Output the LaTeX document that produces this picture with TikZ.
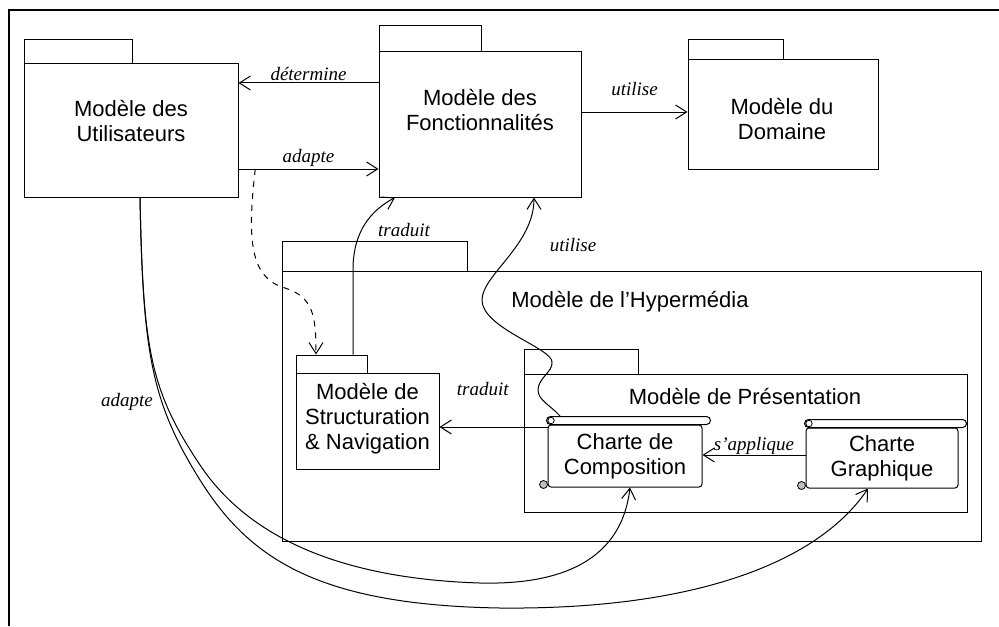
\documentclass[tikz,border=0pt]{standalone}
\usepackage{fontspec}
\setmainfont{Liberation Serif}
\newfontfamily\arial{Liberation Sans}
\usetikzlibrary{arrows.meta, positioning, fit, calc}

% barre roulee d'une charte
\newcommand{\rouleau}[1]{%
  \node[draw, rounded corners=2pt, inner sep=0pt, line width=0.5pt, fill=white,
        fit={($(#1.north west)+(-1,0)$) ($(#1.north east)+(8,-8)$)}] (#1-rouleau) {};
  \draw[line width=0.4pt] ($(#1-rouleau.west)+(5,0)$) circle[radius=1.6pt];
  \draw[line width=0.4pt, fill=black!25] ($(#1.south west)+(-4,-3)$) circle[radius=2pt];
}

\begin{document}
\begin{tikzpicture}[x=0.5pt, y=-0.5pt,
    paquet/.style={draw, inner sep=0pt, line width=0.5pt},
    titre/.style={font=\arial\fontsize{11}{12.5}\selectfont, align=center, inner sep=0pt},
    charte/.style={paquet, rounded corners=1.5pt},
    lien/.style={font=\itshape\fontsize{9.5}{11}\selectfont, inner sep=1pt},
    fleche/.style={-{Straight Barb[length=5.5pt, width=7pt]}, line width=0.5pt}]
  \useasboundingbox (0,0) rectangle (999,626);
  \draw[line width=1pt] (9,626) -- (9,10) -- (999,10);

  % paquetages du haut
  \node[paquet, fit={(24,40) (132,64)}] (util-onglet) {};
  \node[paquet, fit={(24,64) (238,197)}] (util) {};
  \node[titre] (util-titre) at (131,121) {Modèle des\\Utilisateurs};

  \node[paquet, fit={(379,26) (481,52)}] (fonct-onglet) {};
  \node[paquet, fit={(379,52) (581,197)}] (fonct) {};
  \node[titre] (fonct-titre) at (480,110) {Modèle des\\Fonctionnalités};

  \node[paquet, fit={(688,40) (783,60)}] (domaine-onglet) {};
  \node[paquet, fit={(688,60) (878,169)}] (domaine) {};
  \node[titre] (domaine-titre) at (782,119) {Modèle du\\Domaine};

  % hypermedia
  \node[paquet, fit={(282,241) (467,271)}] (hyper-onglet) {};
  \node[paquet, fit={(282,271) (981,541)}] (hyper) {};
  \node[titre] (hyper-titre) at (630,302) {Modèle de l’Hypermédia};

  \node[paquet, fit={(296,355) (367,373)}] (struct-onglet) {};
  \node[paquet, fit={(296,373) (439,469)}] (struct) {};
  \node[titre] (struct-titre) at (367.5,419) {Modèle de\\Structuration\\\& Navigation};

  \node[paquet, fit={(524,349) (638,374)}] (pres-onglet) {};
  \node[paquet, fit={(524,374) (967,512)}] (pres) {};
  \node[titre] (pres-titre) at (745,397) {Modèle de Présentation};

  \node[charte, fit={(548,425) (702,487)}] (compo) {};
  \rouleau{compo}
  \node[titre] (compo-titre) at (625,456) {Charte de\\Composition};
  \node[charte, fit={(806,428) (958,488)}] (graph) {};
  \rouleau{graph}
  \node[titre] (graph-titre) at (882,458) {Charte\\Graphique};

  % liens
  \draw[fleche] (fonct.west |- 0,83) -- node[lien, above] (l-determine) {détermine} (util.east |- 0,83);
  \draw[fleche] (util.east |- 0,169) -- coordinate[pos=0.12] (adpt)
    node[lien, above] (l-adapte) {adapte} (fonct.west |- 0,169);
  \draw[fleche] (fonct.east |- 0,112) -- node[lien, above=7pt] (l-utilise) {utilise} (domaine.west |- 0,112);

  \draw[fleche, dashed] (adpt) .. controls (247,240) and (250,278) .. (285,288)
    .. controls (313,297) and (316,315) .. (316,0 |- struct-onglet.north);

  \draw[fleche] (353,0 |- struct-onglet.north) -- (353,270)
    .. controls (353,230) and (372,210) .. (395,0 |- fonct.south);
  \node[lien] (l-traduit-haut) at (404,230) {traduit};

  \draw[fleche] (560,0 |- compo-rouleau.north) .. controls (550,405) and (538,400) .. (538,390)
    .. controls (538,378) and (553,372) .. (552,362)
    .. controls (552,348) and (482,328) .. (482,300)
    .. controls (482,275) and (534,245) .. (534,0 |- fonct.south);
  \node[lien] (l-utilise-haut) at (573,245) {utilise};

  \draw[fleche] (compo.west |- 0,427) -- node[lien, pos=0.6, above=14.5pt] (l-traduit) {traduit} (struct.east |- 0,427);
  \draw[fleche] (graph.west |- 0,455) -- node[lien, above=-1pt] (l-applique) {s’applique} (compo.east |- 0,455);

  \draw[fleche] (140,0 |- util.south) .. controls (143,350) and (150,390) .. (200,465)
    .. controls (240,525) and (320,578) .. (480,583)
    .. controls (600,586) and (625,530) .. (630,0 |- compo.south);
  \draw[fleche] (140,0 |- util.south) .. controls (143,350) and (150,400) .. (200,480)
    .. controls (250,560) and (320,605) .. (500,608)
    .. controls (700,610) and (820,560) .. (868,0 |- graph.south);
  \node[lien] (l-adapte-bas) at (127,402) {adapte};
\end{tikzpicture}
\end{document}
